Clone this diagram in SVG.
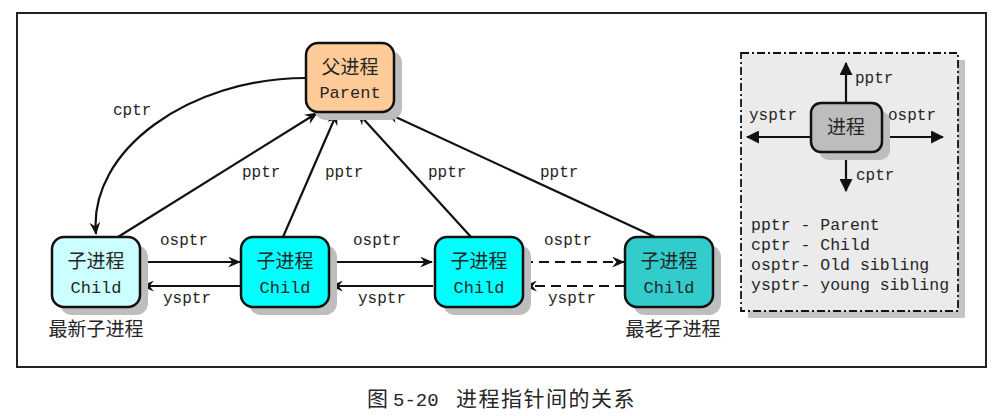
<svg xmlns="http://www.w3.org/2000/svg" width="1002" height="416" viewBox="0 0 1002 416">
<style>
.mono{font-family:"Liberation Mono","DejaVu Sans Mono",monospace;fill:#262626}
.cjk{font-family:"Noto Sans CJK SC","Noto Sans CJK JP",sans-serif;fill:#262626}
.node{stroke:#111;stroke-width:2.5}
.shadow{fill:#bdbdbd}
.edge{fill:none;stroke:#111;stroke-width:2.2}
.dash{stroke-dasharray:10,6}
</style>
<defs>
<marker id="ah" viewBox="0 0 12 10" refX="11" refY="5" markerWidth="13" markerHeight="11" markerUnits="userSpaceOnUse" orient="auto">
<path d="M0,0 L12,5 L0,10 L4,5 z" fill="#111"/>
</marker>
<marker id="tri" viewBox="0 0 12 12" refX="11" refY="6" markerWidth="13" markerHeight="13" markerUnits="userSpaceOnUse" orient="auto">
<path d="M0,0 L12,6 L0,12 z" fill="#111"/>
</marker>
</defs>
<rect x="0" y="0" width="1002" height="416" fill="#fff"/>
<rect id="frame" x="17" y="13" width="969" height="354" fill="#fff" stroke="#222" stroke-width="2"/>

<g id="connectors">
<path class="edge" d="M306,78 C190,78 88,150 96,234" marker-end="url(#ah)"/>
<line class="edge" x1="118" y1="237" x2="317" y2="113" marker-end="url(#ah)"/>
<line class="edge" x1="283" y1="237" x2="337" y2="113" marker-end="url(#ah)"/>
<line class="edge" x1="471" y1="237" x2="358" y2="113" marker-end="url(#ah)"/>
<line class="edge" x1="655" y1="237" x2="387" y2="113" marker-end="url(#ah)"/>
<line class="edge" x1="140" y1="262" x2="240" y2="262" marker-end="url(#ah)"/>
<line class="edge" x1="241" y1="286" x2="142" y2="286" marker-end="url(#ah)"/>
<line class="edge" x1="329" y1="262" x2="432" y2="262" marker-end="url(#ah)"/>
<line class="edge" x1="433" y1="286" x2="331" y2="286" marker-end="url(#ah)"/>
<line class="edge dash" x1="523" y1="262" x2="624" y2="262" marker-end="url(#ah)"/>
<line class="edge dash" x1="625" y1="286" x2="525" y2="286" marker-end="url(#ah)"/>
<text class="mono" x="113" y="115" font-size="16">cptr</text>
<text class="mono" x="242" y="177" font-size="16">pptr</text>
<text class="mono" x="325" y="177" font-size="16">pptr</text>
<text class="mono" x="428" y="177" font-size="16">pptr</text>
<text class="mono" x="540" y="177" font-size="16">pptr</text>
<text class="mono" x="160" y="245" font-size="16">osptr</text>
<text class="mono" x="163" y="303" font-size="16">ysptr</text>
<text class="mono" x="353" y="245" font-size="16">osptr</text>
<text class="mono" x="358" y="303" font-size="16">ysptr</text>
<text class="mono" x="544" y="245" font-size="16">osptr</text>
<text class="mono" x="548" y="303" font-size="16">ysptr</text>
</g>

<g id="parent">
<rect class="shadow" x="314" y="51" width="88" height="69" rx="12"/>
<rect class="node" x="306" y="43" width="88" height="69" rx="12" fill="#ffcc99"/>
<text class="cjk" x="350" y="74" font-size="19" text-anchor="middle">父进程</text>
<text class="mono" x="350" y="98" font-size="17" text-anchor="middle">Parent</text>
</g>

<g id="child1">
<rect class="shadow" x="60" y="245" width="88" height="70" rx="12"/>
<rect class="node" x="52" y="237" width="88" height="70" rx="12" fill="#ccffff"/>
<text class="cjk" x="96" y="268" font-size="19" text-anchor="middle">子进程</text>
<text class="mono" x="96" y="293" font-size="17" text-anchor="middle">Child</text>
<text class="cjk" x="96" y="336" font-size="19" text-anchor="middle">最新子进程</text>
</g>

<g id="child2">
<rect class="shadow" x="249" y="245" width="88" height="70" rx="12"/>
<rect class="node" x="241" y="237" width="88" height="70" rx="12" fill="#00ffff"/>
<text class="cjk" x="285" y="268" font-size="19" text-anchor="middle">子进程</text>
<text class="mono" x="285" y="293" font-size="17" text-anchor="middle">Child</text>
</g>

<g id="child3">
<rect class="shadow" x="443" y="245" width="88" height="70" rx="12"/>
<rect class="node" x="435" y="237" width="88" height="70" rx="12" fill="#00ffff"/>
<text class="cjk" x="479" y="268" font-size="19" text-anchor="middle">子进程</text>
<text class="mono" x="479" y="293" font-size="17" text-anchor="middle">Child</text>
</g>

<g id="child4">
<rect class="shadow" x="633" y="245" width="88" height="70" rx="12"/>
<rect class="node" x="625" y="237" width="88" height="70" rx="12" fill="#33cccc"/>
<text class="cjk" x="669" y="268" font-size="19" text-anchor="middle">子进程</text>
<text class="mono" x="669" y="293" font-size="17" text-anchor="middle">Child</text>
<text class="cjk" x="673" y="336" font-size="19" text-anchor="middle">最老子进程</text>
</g>

<g id="legend">
<rect x="748" y="60" width="217" height="258" fill="#c4c4c4"/>
<rect x="741" y="53" width="217" height="258" fill="#ebebeb" stroke="#111" stroke-width="1.8" stroke-dasharray="8,3,2,3"/>
<line class="edge" x1="846" y1="103" x2="846" y2="63" marker-end="url(#tri)"/>
<line class="edge" x1="846" y1="152" x2="846" y2="191" marker-end="url(#tri)"/>
<line class="edge" x1="811" y1="137" x2="747" y2="137" marker-end="url(#tri)"/>
<line class="edge" x1="882" y1="137" x2="943" y2="137" marker-end="url(#tri)"/>
<rect class="shadow" x="819" y="111" width="71" height="49" rx="10" fill="#b0b0b0"/>
<rect class="node" x="811" y="103" width="71" height="49" rx="10" fill="#bdbdbd"/>
<text class="cjk" x="846" y="134" font-size="19" text-anchor="middle">进程</text>
<text class="mono" x="855" y="83" font-size="16">pptr</text>
<text class="mono" x="749" y="120" font-size="16">ysptr</text>
<text class="mono" x="888" y="120" font-size="16">osptr</text>
<text class="mono" x="856" y="180" font-size="16">cptr</text>
<text class="mono" x="751" y="230" font-size="16.5">pptr - Parent</text>
<text class="mono" x="751" y="250" font-size="16.5">cptr - Child</text>
<text class="mono" x="751" y="270" font-size="16.5">osptr- Old sibling</text>
<text class="mono" x="751" y="290" font-size="16.5">ysptr- young sibling</text>
</g>

<text id="caption" class="cjk" y="406" font-size="21"><tspan x="367">图</tspan><tspan x="393" class="mono" font-size="19">5-20</tspan><tspan x="456" letter-spacing="1.5">进程指针间的关系</tspan></text>
</svg>
